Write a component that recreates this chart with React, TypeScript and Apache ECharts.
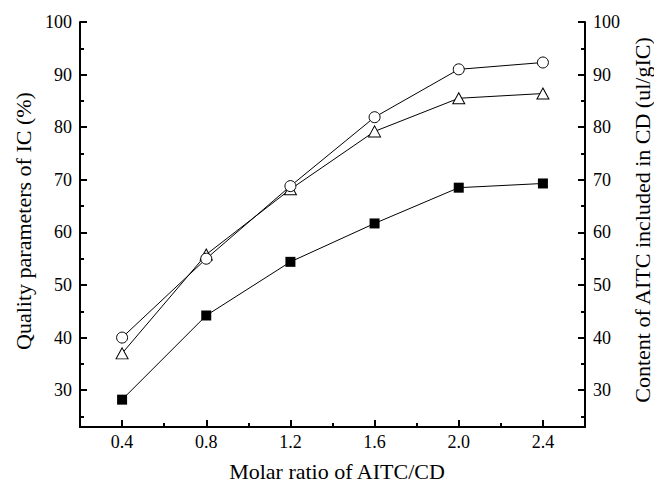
import React, { useEffect, useRef } from "react";
import * as echarts from "echarts";

const xValues = [0.4, 0.8, 1.2, 1.6, 2.0, 2.4];
const circleSeries = [40.0, 55.0, 68.8, 81.9, 91.0, 92.3];
const triangleSeries = [37.0, 55.8, 68.2, 79.2, 85.5, 86.4];
const squareSeries = [28.2, 44.2, 54.4, 61.7, 68.5, 69.3];

const xMajorTicks = [0.4, 0.8, 1.2, 1.6, 2.0, 2.4];
const xMinorTicks = [0.6, 1.0, 1.4, 1.8, 2.2];
const yMajorTicks = [30, 40, 50, 60, 70, 80, 90, 100];
const yMinorTicks = [25, 35, 45, 55, 65, 75, 85, 95];

const xTitle = "Molar ratio of AITC/CD";
const yLeftTitle = "Quality parameters of IC (%)";
const yRightTitle = "Content of AITC included in CD (ul/gIC)";

const FONT = "'Liberation Serif', 'Times New Roman', serif";

export default function App() {
  const ref = useRef<HTMLDivElement>(null);

  useEffect(() => {
    if (!ref.current) return;
    const chart = echarts.init(ref.current, undefined, { renderer: "svg" });

    const pair = (ys: number[]) => xValues.map((x, i) => [x, ys[i]]);

    const baseX = {
      type: "value",
      min: 0.2,
      max: 2.6,
      position: "bottom",
      splitLine: { show: false },
    };
    const baseY = {
      type: "value",
      min: 23,
      max: 100,
      splitLine: { show: false },
    };
    const labelStyle = { fontFamily: FONT, fontSize: 18, color: "#000" };

    chart.setOption({
      animation: false,
      backgroundColor: "#fff",
      grid: { left: 80, right: 69, top: 22, bottom: 55, containLabel: false },
      xAxis: [
        {
          ...baseX,
          axisLine: { show: true, lineStyle: { color: "#000", width: 2 } },
          axisTick: {
            show: true,
            inside: true,
            length: 7,
            lineStyle: { color: "#000", width: 2 },
            customValues: xMajorTicks,
          },
          axisLabel: {
            ...labelStyle,
            margin: 6,
            customValues: xMajorTicks,
            formatter: (v: number) => v.toFixed(1),
          },
        },
        {
          ...baseX,
          axisLine: { show: false },
          axisTick: {
            show: true,
            inside: true,
            length: 4,
            lineStyle: { color: "#000", width: 2 },
            customValues: xMinorTicks,
          },
          axisLabel: { show: false },
        },
      ],
      yAxis: [
        {
          ...baseY,
          position: "left",
          axisLine: { show: true, lineStyle: { color: "#000", width: 2 } },
          axisTick: {
            show: true,
            inside: true,
            length: 7,
            lineStyle: { color: "#000", width: 2 },
            customValues: yMajorTicks,
          },
          axisLabel: { ...labelStyle, margin: 8, customValues: yMajorTicks },
        },
        {
          ...baseY,
          position: "left",
          axisLine: { show: false },
          axisTick: {
            show: true,
            inside: true,
            length: 4,
            lineStyle: { color: "#000", width: 2 },
            customValues: yMinorTicks,
          },
          axisLabel: { show: false },
        },
        {
          ...baseY,
          position: "right",
          axisLine: { show: true, lineStyle: { color: "#000", width: 2 } },
          axisTick: {
            show: true,
            inside: true,
            length: 7,
            lineStyle: { color: "#000", width: 2 },
            customValues: yMajorTicks,
          },
          axisLabel: { ...labelStyle, margin: 8, customValues: yMajorTicks },
        },
        {
          ...baseY,
          position: "right",
          axisLine: { show: false },
          axisTick: {
            show: true,
            inside: true,
            length: 4,
            lineStyle: { color: "#000", width: 2 },
            customValues: yMinorTicks,
          },
          axisLabel: { show: false },
        },
      ],
      series: [
        {
          type: "line",
          name: "square",
          xAxisIndex: 0,
          yAxisIndex: 0,
          data: pair(squareSeries),
          symbol: "rect",
          symbolSize: 10,
          showAllSymbol: true,
          lineStyle: { color: "#000", width: 1 },
          itemStyle: { color: "#000", borderColor: "#000", borderWidth: 0 },
          z: 3,
        },
        {
          type: "line",
          name: "triangle",
          xAxisIndex: 0,
          yAxisIndex: 0,
          data: pair(triangleSeries),
          symbol: "triangle",
          symbolSize: [12, 11],
          showAllSymbol: true,
          lineStyle: { color: "#000", width: 1 },
          itemStyle: { color: "#fff", borderColor: "#000", borderWidth: 1 },
          z: 4,
        },
        {
          type: "line",
          name: "circle",
          xAxisIndex: 0,
          yAxisIndex: 0,
          data: pair(circleSeries),
          symbol: "circle",
          symbolSize: 11,
          showAllSymbol: true,
          lineStyle: { color: "#000", width: 1 },
          itemStyle: { color: "#fff", borderColor: "#000", borderWidth: 1 },
          z: 5,
        },
      ],
      graphic: [
        {
          type: "text",
          x: 337,
          y: 471,
          style: {
            text: xTitle,
            font: `22px ${FONT}`,
            fill: "#000",
            textAlign: "center",
            textVerticalAlign: "middle",
          },
        },
        {
          type: "text",
          x: 23,
          y: 221,
          rotation: Math.PI / 2,
          style: {
            text: yLeftTitle,
            font: `22px ${FONT}`,
            fill: "#000",
            textAlign: "center",
            textVerticalAlign: "middle",
          },
        },
        {
          type: "text",
          x: 642,
          y: 220,
          rotation: Math.PI / 2,
          style: {
            text: yRightTitle,
            font: `22px ${FONT}`,
            fill: "#000",
            textAlign: "center",
            textVerticalAlign: "middle",
          },
        },
      ],
    });

    return () => chart.dispose();
  }, []);

  return (
    <div
      ref={ref}
      style={{ position: "absolute", left: 0, top: 0, width: 654, height: 482 }}
    />
  );
}
